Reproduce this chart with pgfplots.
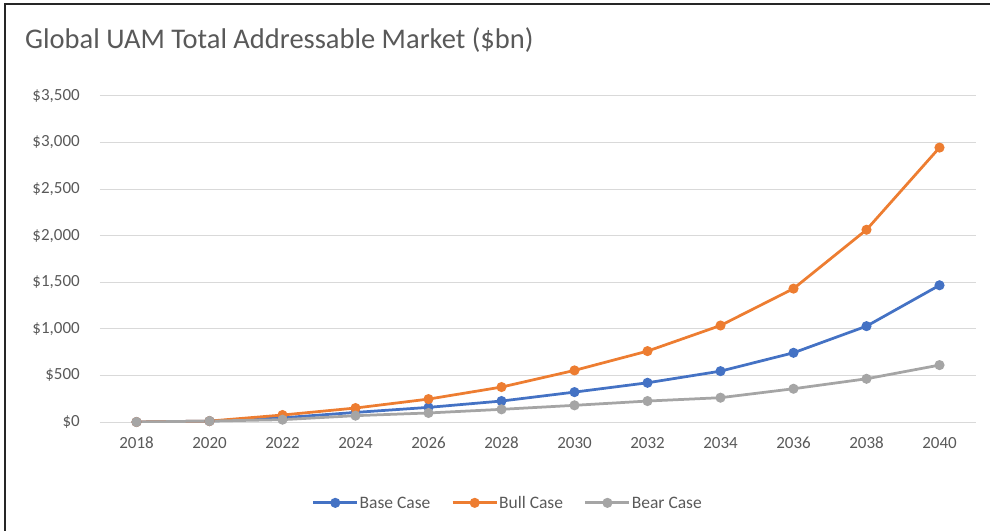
\documentclass[border=0pt]{standalone}
\usepackage{pgfplots}
\pgfplotsset{compat=1.18}
\usepackage{fontspec}
\setmainfont{Carlito}
\definecolor{cblue}{HTML}{4472C4}
\definecolor{corange}{HTML}{ED7D31}
\definecolor{cgray}{HTML}{A5A5A5}
\definecolor{ctext}{HTML}{595959}
\definecolor{cgrid}{HTML}{D9D9D9}
\begin{document}
\begin{tikzpicture}[x=1pt,y=1pt]
\useasboundingbox (-100,-108) rectangle (890,422);
\draw[line width=1.5pt, color=black!85] (-95,-110) -- (-95,418) -- (892,418);
\node[anchor=base west, text=ctext, font=\fontsize{28.5}{32}\selectfont, inner sep=0pt] at (-75,373) {Global UAM Total Addressable Market (\$bn)};
\begin{axis}[
  at={(0,0)}, anchor=origin,
  scale only axis, width=876pt, height=326pt,
  xmin=2017, xmax=2041, ymin=0, ymax=3500,
  xtick={2018,2020,...,2040},
  ytick={0,500,...,3500},
  axis line style={draw=none},
  major tick length=0pt,
  ymajorgrids, grid style={draw=cgrid, line width=1pt},
  /pgf/number format/.cd, 1000 sep={,}, assume math mode=true, /pgfplots/.cd,
  yticklabel={\$\pgfmathprintnumber{\tick}},
  yticklabel style={text=ctext, font=\fontsize{17}{19}\selectfont, inner sep=0pt, anchor=east, xshift=-20pt},
  xticklabel style={text=ctext, font=\fontsize{17}{19}\selectfont, inner sep=0pt, anchor=north, yshift=-15pt, /pgf/number format/1000 sep={}},
  legend style={at={(0.465,-0.248)}, anchor=center, draw=none, fill=none, legend columns=3,
     font=\fontsize{17.5}{19}\selectfont, text=ctext,
     nodes={inner xsep=1pt, text height=11.3pt, text depth=0pt},
     /tikz/every odd column/.append style={column sep=0pt},
     /tikz/every even column/.append style={column sep=20pt}},
  legend cell align=left,
  legend image code/.code={\draw[mark repeat=2,mark phase=2] plot coordinates {(0pt,0pt)(22pt,0pt)(44pt,0pt)};},
  every axis plot/.append style={line width=2.75pt, mark=*, mark size=3.6pt, mark options={solid}},
]
\addplot[color=cblue] coordinates {(2018,0)(2020,10)(2022,45)(2024,103)(2026,157)(2028,225)(2030,321)(2032,421)(2034,546)(2036,743)(2038,1029)(2040,1468)};
\addlegendentry{Base Case}
\addplot[color=corange] coordinates {(2018,0)(2020,10)(2022,75)(2024,150)(2026,246)(2028,375)(2030,554)(2032,761)(2034,1036)(2036,1432)(2038,2064)(2040,2946)};
\addlegendentry{Bull Case}
\addplot[color=cgray] coordinates {(2018,0)(2020,10)(2022,25)(2024,68)(2026,97)(2028,136)(2030,179)(2032,225)(2034,261)(2036,357)(2038,464)(2040,611)};
\addlegendentry{Bear Case}
\end{axis}
\end{tikzpicture}
\end{document}
